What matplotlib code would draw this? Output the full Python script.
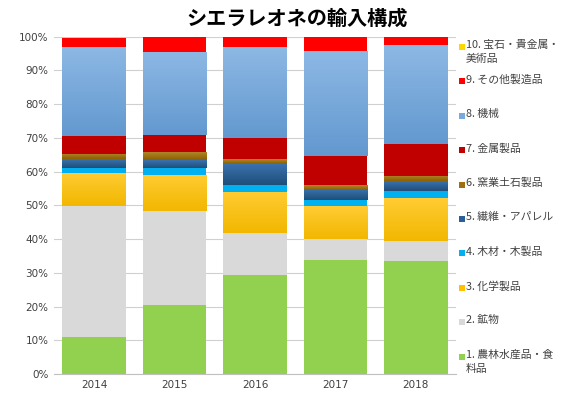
import matplotlib
matplotlib.use("Agg")
import matplotlib.pyplot as plt
import numpy as np
from matplotlib.colors import LinearSegmentedColormap
from matplotlib.patches import Rectangle

plt.rcParams['font.family'] = ['Noto Sans CJK JP', 'DejaVu Sans']

years = ['2014', '2015', '2016', '2017', '2018']
labels = ['1. 農林水産品・食\n料品', '2. 鉱物', '3. 化学製品', '4. 木材・木製品',
          '5. 繊維・アパレル', '6. 窯業土石製品', '7. 金属製品', '8. 機械',
          '9. その他製造品', '10. 宝石・貴金属・\n美術品']
agri = [11.1, 20.5, 29.3, 33.7, 33.4]
mineral = [38.7, 27.7, 12.5, 6.3, 6.0]
chem = [9.9, 10.8, 12.2, 9.7, 12.7]
wood = [1.5, 2.2, 2.1, 1.8, 2.3]
textile = [2.5, 2.3, 6.2, 3.1, 2.7]
ceramic = [1.5, 2.3, 1.4, 1.3, 1.7]
metal = [5.4, 5.1, 6.2, 8.8, 9.5]
machine = [26.4, 24.7, 26.9, 31.2, 29.1]
other = [2.7, 4.2, 3.0, 3.9, 2.4]
gems = [0.3, 0.2, 0.2, 0.2, 0.2]
series = [agri, mineral, chem, wood, textile, ceramic, metal, machine, other, gems]
colors = ['#92D050', '#D9D9D9', '#FFC000', '#00B0F0', '#2A5F97', '#9E7010',
          '#C00000', '#7AAADD', '#FF0000', '#FFD700']
gradients = {2: ('#FFCC33', '#F2B700'), 4: ('#3A72AE', '#1F4E79'),
             5: ('#B08528', '#8C6000'), 7: ('#8DB8E4', '#6399D0')}

W, H = 563, 408
fig = plt.figure(figsize=(W/100, H/100), dpi=100)
ax = fig.add_axes([54/W, 1-374/H, (456-54)/W, (374-36.7)/H])

x = np.arange(len(years))
bottom = np.zeros(len(years))
for i, (vals, c) in enumerate(zip(series, colors)):
    bars = ax.bar(x, vals, width=0.79, bottom=bottom, color=c, zorder=2, linewidth=0)
    if i in gradients:
        top_c, bot_c = gradients[i]
        cmap = LinearSegmentedColormap.from_list('g%d' % i, [bot_c, top_c])
        for p in bars.patches:
            bx, by = p.get_x(), p.get_y()
            bw, bh = p.get_width(), p.get_height()
            grad = np.linspace(0, 1, 64).reshape(-1, 1)
            im = ax.imshow(grad, cmap=cmap, origin='lower', aspect='auto',
                           extent=[bx, bx + bw, by, by + bh], zorder=3,
                           interpolation='bilinear')
            im.set_clip_path(p)
    bottom += np.array(vals)

ax.set_xlim(-0.5, len(years) - 0.5)
ax.set_ylim(0, 100)
ax.set_yticks(np.arange(0, 101, 10))
ax.set_yticklabels(['%d%%' % v for v in range(0, 101, 10)], fontsize=7.5,
                   family=['DejaVu Sans'])
ax.set_xticks(x)
ax.set_xticklabels(years, fontsize=7.5, family=['DejaVu Sans'])
ax.tick_params(axis='both', length=0, pad=4, colors='#404040')
ax.grid(axis='y', color='#D0D0D0', linewidth=0.8, zorder=0)
for s in ['top', 'right', 'left']:
    ax.spines[s].set_visible(False)
ax.spines['bottom'].set_color('#C0C0C0')

fig.text(297/W, 1-18/H, 'シエラレオネの輸入構成', fontsize=14.5, fontweight='bold',
         ha='center', va='center')

# legend (reverse order, top = item 10)
n = len(labels)
for k in range(n):
    idx = n - 1 - k
    yc = 47 + 34.4 * k
    fig.patches.append(Rectangle((459/W, 1-(yc+3)/H), 6/W, 6/H,
                                 transform=fig.transFigure, facecolor=colors[idx],
                                 edgecolor='none'))
    fig.text(466/W, 1-(yc-7)/H, labels[idx], fontsize=7.8, color='#404040',
             ha='left', va='top', linespacing=1.5)

fig.savefig('out.png', dpi=100)
